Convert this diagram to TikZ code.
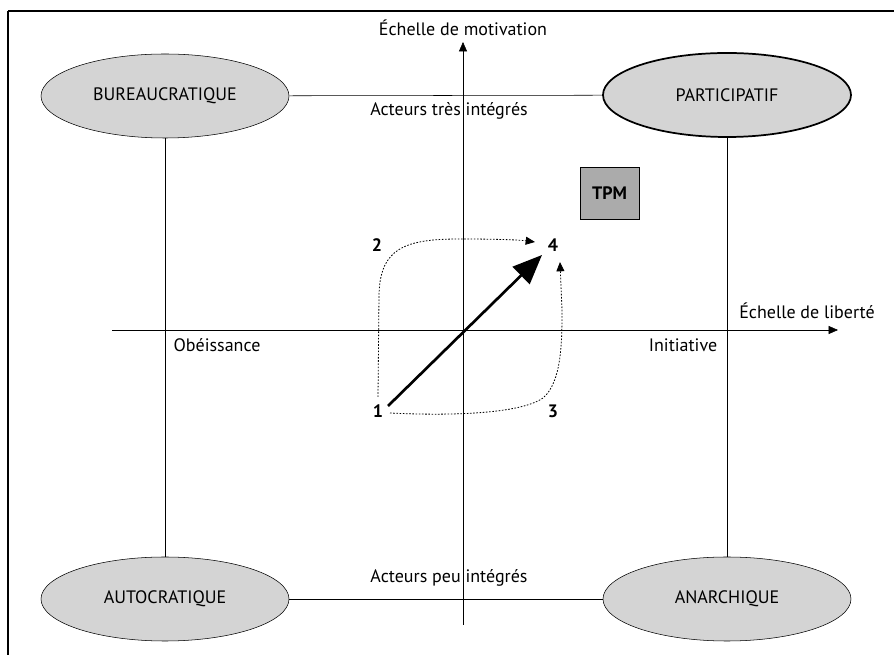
\documentclass[tikz,border=0pt]{standalone}
\usepackage{fontspec}
\setmainfont{PT Sans}
\usetikzlibrary{shapes.geometric,arrows.meta}

\tikzset{
  regime/.style={ellipse,draw,fill=black!17,minimum width=186pt,minimum height=63pt,inner sep=0pt,font=\fontsize{13.5}{15}\selectfont},
  lbl/.style={inner sep=0.75pt,font=\fontsize{13.5}{15}\selectfont},
  num/.style={inner sep=0.75pt,font=\fontsize{13.5}{15}\selectfont\bfseries},
  axe/.style={-{Triangle[length=7pt,width=6pt]}},
  chemin/.style={line width=0.6pt,dash pattern=on 1.2pt off 1.2pt,-{Triangle[length=7pt,width=6pt]}}
}

\begin{document}
\begin{tikzpicture}[x=0.75pt,y=0.75pt,yscale=-1,xscale=1]
\useasboundingbox (0,0) rectangle (894,655);

%Frame
\draw [line width=0.9pt] (8,11) -- (900,11) (8,11) -- (8,660) ;

%Axes
\coordinate (ybas) at (463,625);
\coordinate (yhaut) at (463,42);
\coordinate (xgauche) at (112,330);
\coordinate (xdroite) at (838,330);
\draw [axe]   (ybas) -- (yhaut) ;
\draw [axe]   (xgauche) -- (xdroite) ;

% Text Node
\node (motiv) at (463,28) [lbl] {Échelle de motivation};
% Text Node
\node (liberte) at (807,311) [lbl] {Échelle de liberté};
% Text Node
\node (obeis) at (217,345) [lbl] {Obéissance};
% Text Node
\node (initia) at (683,345) [lbl] {Initiative};
% Text Node
\node (tres) at (449,111) [lbl] {Acteurs très intégrés};
% Text Node
\node (peu) at (449,578) [lbl] {Acteurs peu intégrés};

%Ellipses
\node (bureau) at (165,96) [regime] {BUREAUCRATIQUE};
\node (partic) at (727,95) [regime,line width=1.3pt] {PARTICIPATIF};
\node (autoc) at (165,599) [regime] {AUTOCRATIQUE};
\node (anarc) at (727,599) [regime] {ANARCHIQUE};

%Straight Lines
\draw    (bureau) -- (partic) ;
\draw    (autoc) -- (anarc) ;
\draw    (bureau) -- (autoc) ;
\draw    (partic) -- (anarc) ;

%TPM box
\node (tpm) at (609.5,193) [draw,fill=black!33,minimum width=44pt,minimum height=39pt,inner sep=0pt,font=\fontsize{13.5}{15}\selectfont\bfseries] {TPM};

% Numbers
\node (n1) at (378,411) [num] {1};
\node (n2) at (377,245) [num] {2};
\node (n3) at (553,411) [num] {3};
\node (n4) at (553,245) [num] {4};

%Paths
\coordinate (d1) at (378,397);
\coordinate (f2) at (535,242);
\coordinate (d3) at (390,413);
\coordinate (f3) at (560,262);
\coordinate (dg) at (388,406);
\coordinate (fg) at (542,255);
\draw [chemin] (d1) -- (379,295) .. controls (380,248) and (405,239) .. (460,239) .. controls (500,239) and (520,240) .. (f2) ;
\draw [chemin] (d3) .. controls (450,416) and (520,414) .. (543,398) .. controls (562,382) and (562,340) .. (562,310) -- (f3) ;
\draw [line width=2pt,-{Triangle[length=22pt,width=18pt]}] (dg) -- (fg) ;

\end{tikzpicture}
\end{document}
